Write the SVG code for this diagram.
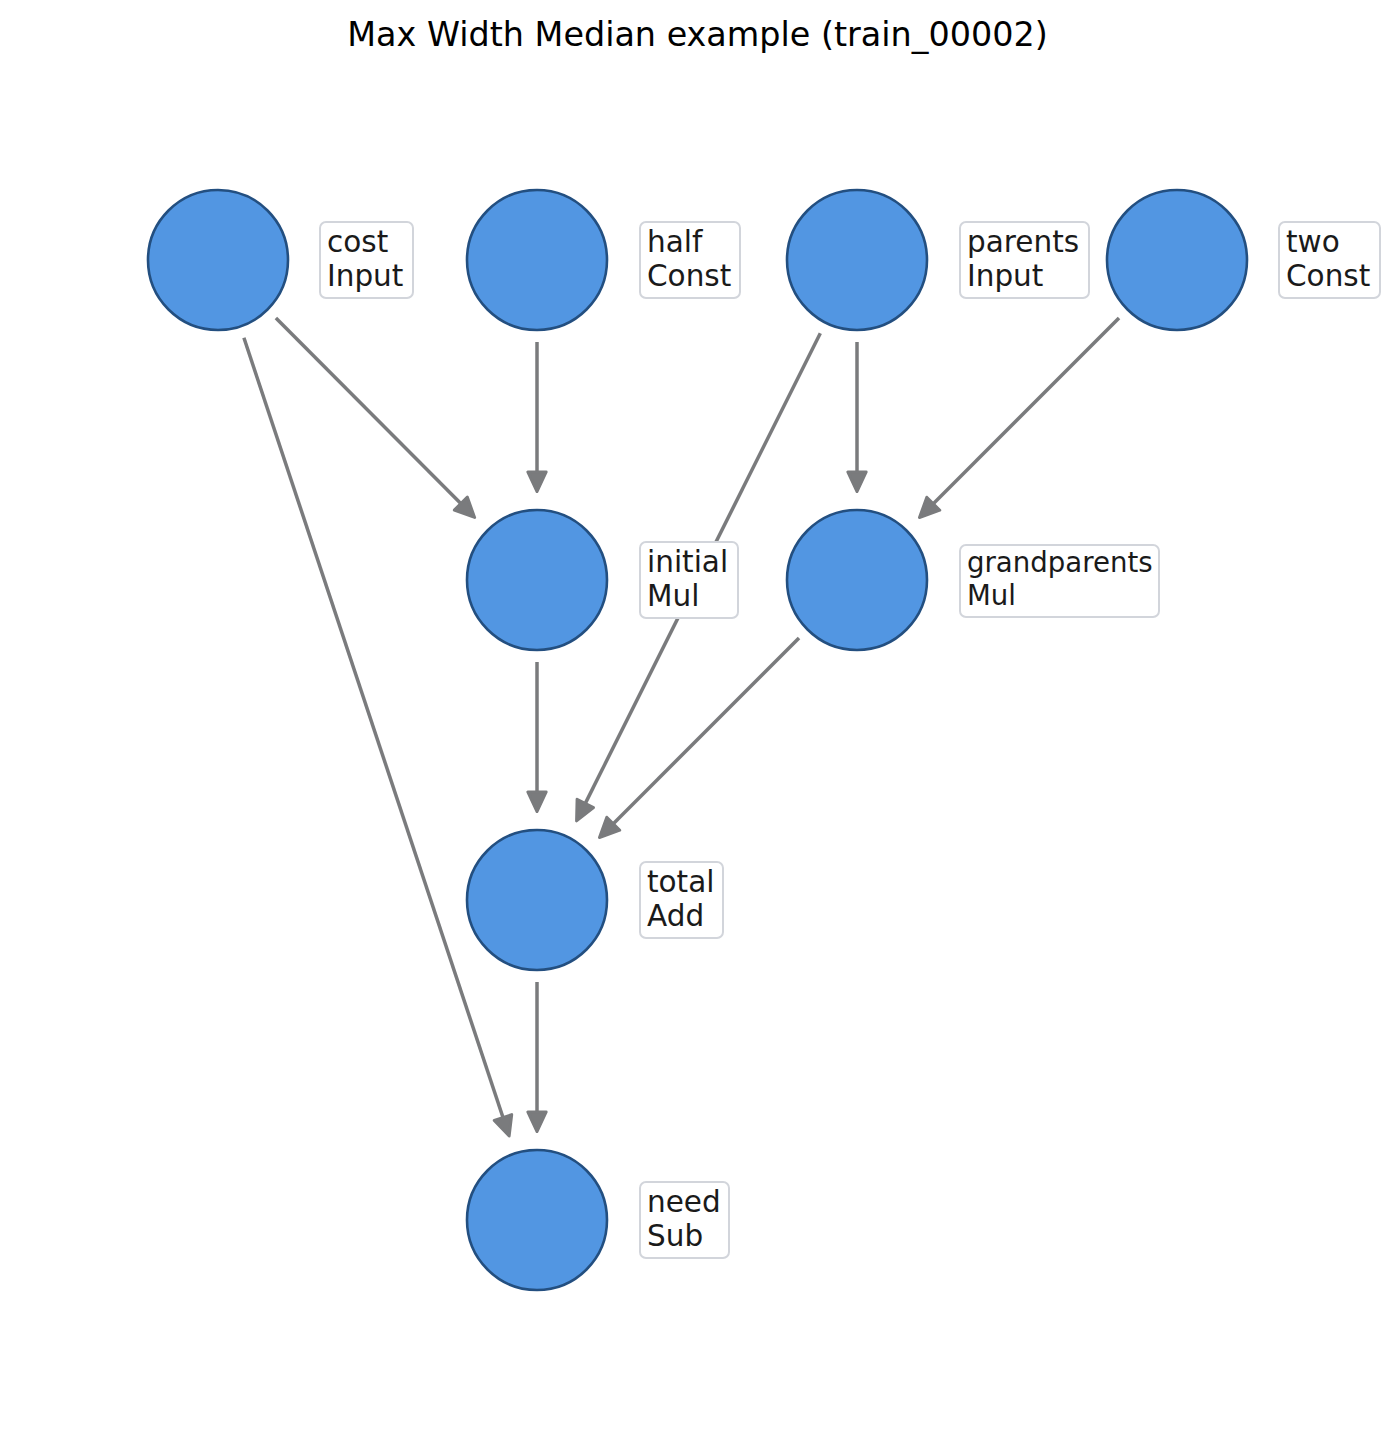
<svg xmlns="http://www.w3.org/2000/svg" width="1395" height="1438" viewBox="0 0 1395 1438">
<style>
.title{font-family:"DejaVu Sans","Liberation Sans",sans-serif;font-size:33.4px;fill:#000;text-anchor:middle}
.node{fill:#5296e2;stroke:#234f80;stroke-width:2.6}
.lbox{fill:#fff;stroke:#d2d5db;stroke-width:2}
.lt{font-family:"DejaVu Sans","Liberation Sans",sans-serif;font-size:29.5px;fill:#1a1a1a}
.lt.small{font-size:27.6px}
.edge{stroke:#7a7b7d;stroke-width:3.5;fill:none}
</style>
<defs>
<marker id="arr" markerUnits="userSpaceOnUse" markerWidth="30" markerHeight="30" viewBox="-3 -12 26 24" refX="0" refY="0" orient="auto">
<path d="M0,-8 L17,0 L0,8 Z" fill="#7a7b7d" stroke="#7a7b7d" stroke-width="2.5" stroke-linejoin="round"/>
</marker>
</defs>
<rect width="1395" height="1438" fill="#fff"/>
<text class="title" x="697.5" y="46">Max Width Median example (train_00002)</text>
<g id="edges">
<line class="edge" x1="275.9" y1="318.1" x2="460.8" y2="503.6" marker-end="url(#arr)"/>
<line class="edge" x1="243.9" y1="337.8" x2="503.0" y2="1117.5" marker-end="url(#arr)"/>
<line class="edge" x1="537" y1="342" x2="537" y2="472" marker-end="url(#arr)"/>
<line class="edge" x1="820.3" y1="333.3" x2="585.3" y2="803.4" marker-end="url(#arr)"/>
<line class="edge" x1="857" y1="342" x2="857" y2="472" marker-end="url(#arr)"/>
<line class="edge" x1="1119" y1="318" x2="933.3" y2="503.7" marker-end="url(#arr)"/>
<line class="edge" x1="537" y1="662" x2="537" y2="792" marker-end="url(#arr)"/>
<line class="edge" x1="799" y1="638" x2="613.3" y2="823.7" marker-end="url(#arr)"/>
<line class="edge" x1="537" y1="982" x2="537" y2="1112" marker-end="url(#arr)"/>
</g>
<g id="cost">
<circle class="node" cx="218" cy="260" r="70"/>
<rect class="lbox" x="320" y="222" width="93" height="76" rx="6"/>
<text class="lt" x="327" y="252">cost</text>
<text class="lt" x="327" y="286">Input</text>
</g>
<g id="half">
<circle class="node" cx="537" cy="260" r="70"/>
<rect class="lbox" x="640" y="222" width="100" height="76" rx="6"/>
<text class="lt" x="647" y="252">half</text>
<text class="lt" x="647" y="286">Const</text>
</g>
<g id="parents">
<circle class="node" cx="857" cy="260" r="70"/>
<rect class="lbox" x="960" y="222" width="129" height="76" rx="6"/>
<text class="lt" x="967" y="252">parents</text>
<text class="lt" x="967" y="286">Input</text>
</g>
<g id="two">
<circle class="node" cx="1177" cy="260" r="70"/>
<rect class="lbox" x="1279" y="222" width="101" height="76" rx="6"/>
<text class="lt" x="1286" y="252">two</text>
<text class="lt" x="1286" y="286">Const</text>
</g>
<g id="initial">
<circle class="node" cx="537" cy="580" r="70"/>
<rect class="lbox" x="640" y="542" width="98" height="76" rx="6"/>
<text class="lt" x="647" y="572">initial</text>
<text class="lt" x="647" y="606">Mul</text>
</g>
<g id="grandparents">
<circle class="node" cx="857" cy="580" r="70"/>
<rect class="lbox" x="960" y="545" width="199" height="72" rx="6"/>
<text class="lt small" x="967" y="572">grandparents</text>
<text class="lt small" x="967" y="605">Mul</text>
</g>
<g id="total">
<circle class="node" cx="537" cy="900" r="70"/>
<rect class="lbox" x="640" y="862" width="83" height="76" rx="6"/>
<text class="lt" x="647" y="892">total</text>
<text class="lt" x="647" y="926">Add</text>
</g>
<g id="need">
<circle class="node" cx="537" cy="1220" r="70"/>
<rect class="lbox" x="640" y="1182" width="89" height="76" rx="6"/>
<text class="lt" x="647" y="1212">need</text>
<text class="lt" x="647" y="1246">Sub</text>
</g>
</svg>
